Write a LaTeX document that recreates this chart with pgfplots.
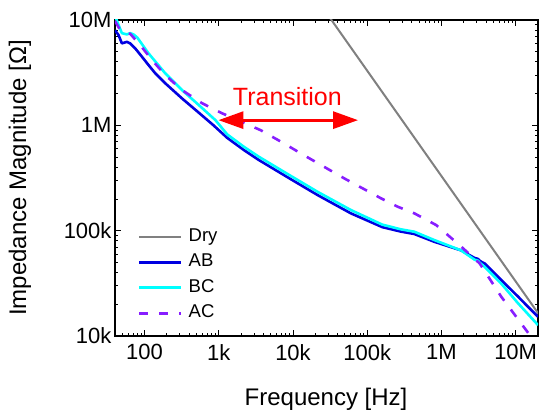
\documentclass[border=0pt]{standalone}
\usepackage{pgfplots}
\pgfplotsset{compat=1.18}
\usepackage{fontspec}
\setmainfont{Liberation Sans}
\usetikzlibrary{arrows.meta}
\definecolor{cDry}{RGB}{128,128,128}
\definecolor{cAB}{RGB}{0,0,225}
\definecolor{cBC}{RGB}{0,255,255}
\definecolor{cAC}{RGB}{135,30,255}
\begin{document}
\begin{tikzpicture}
\begin{axis}[
  scale only axis, width=423pt, height=316pt,
  xmode=log, ymode=log,
  xmin=40, xmax=2e7, ymin=1e4, ymax=1e7,
  /pgf/number format/assume math mode=true,
  tick align=inside,
  major tick length=6pt, minor tick length=3.5pt,
  every tick/.style={black, line width=0.9pt},
  axis line style={line width=1.2pt},
  xtick={100,1000,10000,100000,1000000,10000000},
  xticklabels={100,1k,10k,100k,1M,10M},
  ytick={10000,100000,1000000,10000000},
  yticklabels={10k,100k,1M,10M},
  minor xtick={50,60,70,80,90,200,300,400,500,600,700,800,900,2000,3000,4000,5000,6000,7000,8000,9000,2e4,3e4,4e4,5e4,6e4,7e4,8e4,9e4,2e5,3e5,4e5,5e5,6e5,7e5,8e5,9e5,2e6,3e6,4e6,5e6,6e6,7e6,8e6,9e6},
  minor ytick={2e4,3e4,4e4,5e4,6e4,7e4,8e4,9e4,2e5,3e5,4e5,5e5,6e5,7e5,8e5,9e5,2e6,3e6,4e6,5e6,6e6,7e6,8e6,9e6},
  tick label style={font=\fontsize{22}{22}\selectfont},
  xticklabel style={yshift=-5pt},
  xlabel={Frequency [Hz]},
  ylabel={Impedance Magnitude [Ω]},
  label style={font=\fontsize{24}{24}\selectfont},
  xlabel style={at={(axis description cs:0.499,-0.2)}, anchor=center},
  ylabel style={at={(axis description cs:-0.2246,0.5)}, anchor=center},
  legend cell align=left,
  legend style={draw=none, fill=none, at={(axis description cs:0.047,0.352)}, anchor=north west,
    font=\fontsize{18.5}{18.5}\selectfont, row sep=6pt, column sep=5pt,
    nodes={inner sep=1pt, text height=13.5pt, text depth=4pt}},
  legend image code/.code={\draw[#1] (0pt,0pt) -- (42pt,0pt);},
]
\addplot[cDry, line width=2pt] coordinates {(1e4,3.3e7) (2.2e7,1.5e4)};
\addlegendentry{Dry}
\addplot[cAB, line width=2.6pt, line join=round] coordinates {
(40,8.0e6) (44.6,7.2e6) (49.5,6.0e6) (57.8,6.2e6) (64,6.0e6) (74.8,5.38e6) (92.3,4.48e6)
(113,3.74e6) (139.5,3.12e6) (190,2.51e6) (320,1.80e6) (537,1.32e6) (850,1.0e6) (1300,7.6e5)
(2178,5.83e5) (3475,4.68e5) (7550,3.37e5) (2.14e4,2.18e5) (6.03e4,1.46e5) (1.6e5,1.08e5)
(2.84e5,9.8e4) (4.3e5,9.3e4) (8.0e5,7.85e4) (1.84e6,6.5e4) (2.8e6,5.5e4) (3.1e6,5.4e4) (3.3e6,5.15e4) (3.81e6,4.89e4)
(6.4e6,3.4e4) (1.08e7,2.36e4) (2.0e7,1.52e4)};
\addlegendentry{AB}
\addplot[cBC, line width=2.6pt, line join=round] coordinates {
(40,1.1e7) (44.6,9.0e6) (49.5,7.5e6) (57.8,7.3e6) (64,7.5e6) (71,7.3e6) (80,6.8e6) (113,4.83e6)
(190,3.12e6) (320,2.16e6) (537,1.56e6) (902,1.12e6) (1300,8.2e5) (2178,6.26e5) (3475,5.03e5) (7550,3.62e5)
(2.14e4,2.34e5) (6.03e4,1.57e5) (1.6e5,1.14e5) (2.84e5,1.03e5) (4.32e5,9.77e4) (8.0e5,8.15e4) (1.84e6,6.5e4)
(2.8e6,5.3e4) (3.1e6,5.2e4) (3.3e6,4.95e4) (3.81e6,4.54e4) (6.4e6,3.14e4) (1.08e7,2.04e4) (2.0e7,1.27e4)};
\addlegendentry{BC}
\addplot[cAC, line width=2.6pt, dash pattern=on 9pt off 11pt] coordinates {
(40,9.8e6) (47,8.0e6) (55,7.5e6) (64,7.4e6) (87,5.8e6) (126,4.17e6) (190,3.0e6) (320,2.16e6)
(597,1.62e6) (1112,1.30e6) (3660,9.0e5) (7550,6.74e5) (1.27e4,5.42e5) (4.89e4,3.14e5) (1.53e5,2.03e5)
(2.57e5,1.69e5) (4.32e5,1.46e5) (8.5e5,1.13e5) (1.75e6,7.3e4) (3.27e6,4.89e4)
(6.4e6,2.36e4) (1.02e7,1.52e4) (1.55e7,1.02e4) (2.0e7,8.0e3)};
\addlegendentry{AC}
\draw[red, line width=3pt, {Triangle[length=25pt,width=17pt]}-{Triangle[length=25pt,width=17pt]}]
  (axis cs:990,1.12e6) -- (axis cs:7.53e4,1.12e6);
\node[red, font=\fontsize{25}{25}\selectfont, anchor=base, inner sep=0pt] at (axis cs:8400,1.535e6) {Transition};
\end{axis}
\pgfresetboundingbox
\path[use as bounding box] ([shift={(-115pt,-77pt)}]current axis.south west) rectangle ([shift={(1pt,20pt)}]current axis.north east);
\end{tikzpicture}
\end{document}
